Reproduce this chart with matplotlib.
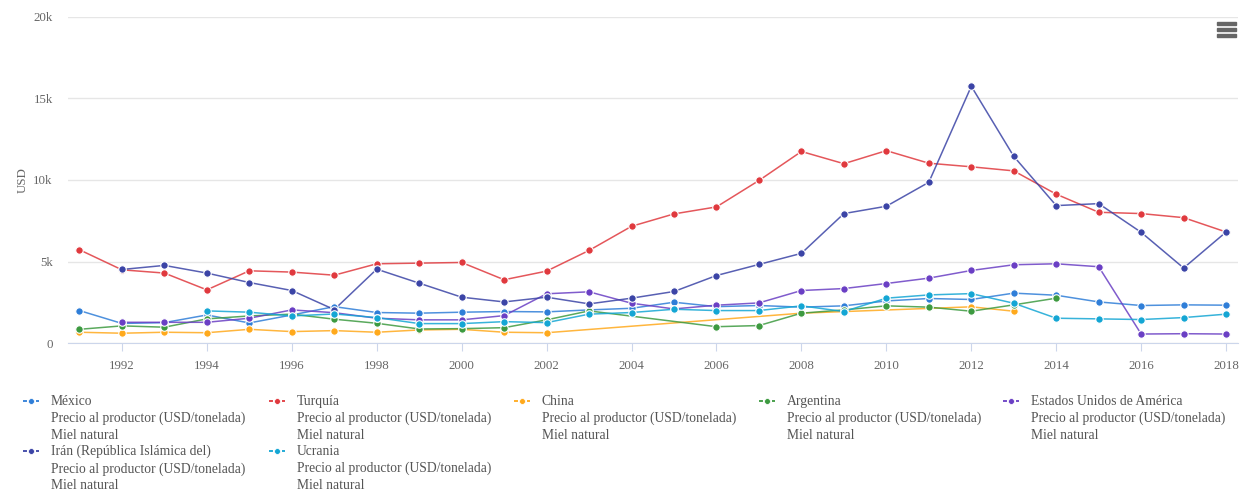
import matplotlib
matplotlib.use("Agg")
import matplotlib.pyplot as plt
from matplotlib.lines import Line2D
from matplotlib.patches import Rectangle
from matplotlib.ticker import FuncFormatter

years = list(range(1991, 2019))

# valores en USD/tonelada (None = sin dato)
mexico = [1990, 1200, 1250, 1720, 1230, 1720, 2230, 1870, 1830, 1890, 1930, 1910, 2030, 2130,
          2500, 2230, 2300, 2200, 2280, 2580, 2730, 2670, 3060, 2930, 2520, 2300, 2340, 2320]
turquia = [5720, 4490, 4290, 3260, 4430, 4350, 4160, 4860, 4900, 4940, 3880, 4410, 5680, 7160,
           7920, 8350, 9970, 11750, 11000, 11800, 11030, 10810, 10560, 9130, 8020, 7940, 7690, 6810]
china = [660, 600, 660, 630, 840, 700, 760, 660, 800, 840, 660, 630, None, None,
         None, None, None, 1830, None, None, None, 2220, 1950, None, None, None, None, None]
argentina = [840, 1050, 970, 1480, 1660, 1770, 1460, 1210, 860, 880, 940, 1420, 1970, None,
             None, 1000, 1070, 1830, 2030, 2280, 2200, 1950, 2340, 2750, None, None, None, None]
eeuu = [None, 1270, 1270, 1270, 1520, 2030, 1860, 1520, 1420, 1420, 1680, 3020, 3140, 2440,
        2090, 2320, 2460, 3220, 3340, 3650, 3980, 4450, 4800, 4860, 4680, 550, 570, 550]
iran = [None, 4510, 4760, 4290, 3710, 3220, 2050, 4530, 3670, 2810, 2520, 2810, 2400, 2750,
        3160, 4140, 4820, 5500, 7940, 8390, 9860, 15750, 11450, 8430, 8550, 6790, 4600, 6810]
ucrania = [None, None, None, 1970, 1890, 1660, 1780, 1560, 1190, 1190, 1310, 1250, 1770, 1870,
           2070, 1990, 1990, 2280, 1930, 2750, 2950, 3030, 2440, 1520, 1480, 1440, 1560, 1770]

names = ['México', 'Turquía', 'China', 'Argentina', 'Estados Unidos de América',
         'Irán (República Islámica del)', 'Ucrania']
series = [mexico, turquia, china, argentina, eeuu, iran, ucrania]
colors = ['#2f7ed8', '#e0393e', '#ffa91c', '#3d9a40', '#6a3fc4', '#3b44a6', '#14a6d4']
subtitle = 'Precio al productor (USD/tonelada)'
item = 'Miel natural'

plt.rcParams['font.family'] = ['Liberation Serif', 'DejaVu Serif']

fig = plt.figure(figsize=(12.42, 4.91), dpi=100)
ax = fig.add_axes([68 / 1242, 1 - 343 / 491, 1170 / 1242, 326 / 491])

for vals, col in zip(series, colors):
    xs = [y for y, v in zip(years, vals) if v is not None]
    ys = [v for v in vals if v is not None]
    ax.plot(xs, ys, color=col, lw=1.1, alpha=0.85, zorder=3)
    ax.plot(xs, ys, ls='none', marker='o', ms=5.4, mfc=col, mec='white', mew=0.8, zorder=4)

ax.set_xlim(1990.73, 2018.28)
ax.set_ylim(0, 20000)
ax.set_yticks([0, 5000, 10000, 15000, 20000])
ax.yaxis.set_major_formatter(FuncFormatter(lambda v, p: '0' if v == 0 else '%dk' % (v / 1000)))
ax.set_xticks(range(1992, 2019, 2))
ax.grid(axis='y', color='#e6e6e6', lw=1)
ax.set_axisbelow(True)
for s in ['top', 'right', 'left']:
    ax.spines[s].set_visible(False)
ax.spines['bottom'].set_color('#ccd6eb')
ax.tick_params(axis='y', length=0, pad=11, labelsize=9.3, labelcolor='#666666')
ax.tick_params(axis='x', length=6, color='#ccd6eb', pad=6, labelsize=9.3, labelcolor='#666666')
ax.set_ylabel('USD', fontsize=9.3, color='#666666', labelpad=3)

# leyenda
col_x = [23, 269, 514, 759, 1003]
row_y = [401, 451]
for i, (name, col) in enumerate(zip(names, colors)):
    r, c = divmod(i, 5)
    x0 = col_x[c] / 1242
    y0 = 1 - row_y[r] / 491
    fig.add_artist(Line2D([x0, x0 + 16 / 1242], [y0, y0], color=col, lw=1.3, ls=(0, (2.2, 1.4)),
                          transform=fig.transFigure))
    fig.add_artist(Line2D([x0 + 8 / 1242], [y0], color=col, marker='o', ms=4.2, mec='white', mew=0.5,
                          transform=fig.transFigure))
    fig.text(x0 + 28 / 1242, 1 - (row_y[r] - 6) / 491, name + '\n' + subtitle + '\n' + item,
             fontsize=9.8, color='#555555', va='top', ha='left', linespacing=1.36,
             transform=fig.transFigure)

# icono de menú
for k in range(3):
    fig.add_artist(Rectangle((1217 / 1242, 1 - (24.5 + k * 6) / 491), 19 / 1242, 2.6 / 491,
                             color='#666666', transform=fig.transFigure))

fig.savefig('out.png', dpi=100)
